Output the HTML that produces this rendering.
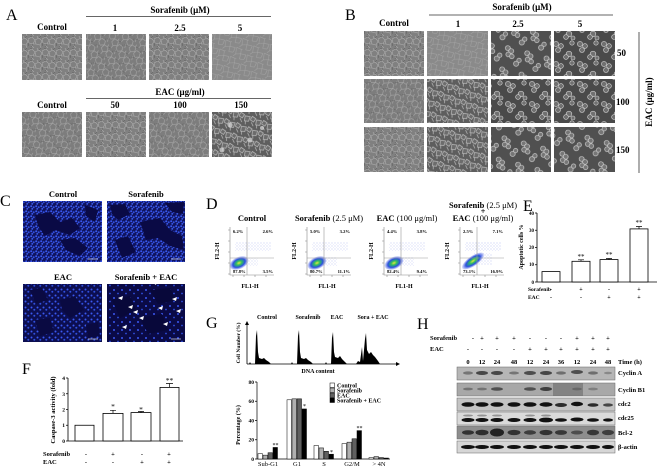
<!DOCTYPE html>
<html><head><meta charset="utf-8">
<style>
html,body{margin:0;padding:0;background:#fff;}
svg{display:block;}
text{font-family:"Liberation Serif",serif;}
.b{font-weight:bold;}
</style></head>
<body>
<svg width="660" height="469" viewBox="0 0 660 469" xmlns="http://www.w3.org/2000/svg">
<defs>
 <pattern id="conf" width="14" height="12" patternUnits="userSpaceOnUse">
  <rect width="14" height="12" fill="#808080"/>
  <path d="M0 3 L4 1 L7 4 L5 8 L1 7 Z M7 4 L11 2 L14 5 L12 9 L8 8 Z M3 9 L6 12 M9 0 L10 2 M12 9 L13 12 M5 8 L8 8" fill="none" stroke="#ababab" stroke-width="0.6"/>
  <path d="M4 1 L2 0 M5 8 L3 11 M11 2 L13 0 M1 7 L0 10" stroke="#5a5a5a" stroke-width="0.5"/>
 </pattern>
 <pattern id="confb" width="14" height="12" patternUnits="userSpaceOnUse" patternTransform="rotate(60)">
  <rect width="14" height="12" fill="#7d7d7d"/>
  <path d="M0 3 L4 1 L7 4 L5 8 L1 7 Z M7 4 L11 2 L14 5 L12 9 L8 8 Z M3 9 L6 12 M9 0 L10 2 M12 9 L13 12" fill="none" stroke="#a8a8a8" stroke-width="0.6"/>
  <path d="M4 1 L2 0 M5 8 L3 11 M11 2 L13 0" stroke="#5a5a5a" stroke-width="0.5"/>
 </pattern>
 <pattern id="conf2" width="13" height="11" patternUnits="userSpaceOnUse" patternTransform="rotate(35)">
  <rect width="13" height="11" fill="#8a8a8a"/>
  <path d="M0 2 L5 1 L7 5 L3 8 Z M7 5 L12 3 L13 8 L9 10 Z M3 8 L2 11 M5 1 L6 0" fill="none" stroke="#a8a8a8" stroke-width="0.5"/>
 </pattern>
 <pattern id="dense" width="12" height="11" patternUnits="userSpaceOnUse" patternTransform="rotate(20)">
  <rect width="12" height="11" fill="#5e5e5e"/>
  <path d="M1 1 L5 2 L4 6 L0 5 Z M6 3 L11 2 L11 7 L7 8 Z M2 7 L5 10 M8 8 L9 11" fill="#6c6c6c" stroke="#bdbdbd" stroke-width="0.7"/>
 </pattern>
 <pattern id="round" width="24" height="20" patternUnits="userSpaceOnUse">
  <rect width="24" height="20" fill="#4a4a4a"/>
  <g fill="#707070" stroke="#d2d2d2" stroke-width="0.6">
   <circle cx="4" cy="4" r="2.6"/><circle cx="9" cy="6" r="2.4"/><circle cx="6" cy="10" r="2.5"/><circle cx="17" cy="14" r="2.8"/><circle cx="20" cy="3" r="2.2"/><circle cx="14" cy="17" r="2.4"/><circle cx="21" cy="18" r="2"/>
  </g>
 </pattern>
 <pattern id="round2" width="20" height="22" patternUnits="userSpaceOnUse" patternTransform="rotate(15)">
  <rect width="20" height="22" fill="#505050"/>
  <g fill="#767676" stroke="#d8d8d8" stroke-width="0.6">
   <circle cx="3" cy="3" r="2.5"/><circle cx="7" cy="5" r="2.5"/><circle cx="5" cy="9" r="2.4"/><circle cx="9" cy="10" r="2.3"/><circle cx="15" cy="16" r="2.6"/><circle cx="17" cy="12" r="2.2"/>
  </g>
 </pattern>
 <pattern id="bd" width="5" height="5" patternUnits="userSpaceOnUse">
  <rect width="5" height="5" fill="#101460"/>
  <circle cx="1.2" cy="1.2" r="1" fill="#3a58f0"/><circle cx="3.7" cy="2.3" r="1" fill="#3250e0"/><circle cx="2.2" cy="3.9" r="0.9" fill="#4060f4"/>
 </pattern>
 <pattern id="bs" width="6" height="6" patternUnits="userSpaceOnUse">
  <rect width="6" height="6" fill="#0c0e50"/>
  <circle cx="1.5" cy="1.5" r="1" fill="#3a58f0"/><circle cx="4.3" cy="3.8" r="1" fill="#3050de"/>
 </pattern>
 <pattern id="bss" width="8" height="8" patternUnits="userSpaceOnUse">
  <rect width="8" height="8" fill="#0a0a46"/>
  <circle cx="2" cy="2" r="1" fill="#3a58f0"/><circle cx="6" cy="5.5" r="0.9" fill="#3050de"/>
 </pattern>
 <pattern id="fs" width="3" height="3" patternUnits="userSpaceOnUse">
  <circle cx="1" cy="1" r="0.45" fill="#8f9ce8"/><circle cx="2.4" cy="2.3" r="0.35" fill="#b0b8f0"/>
 </pattern>
 <radialGradient id="blob">
  <stop offset="0" stop-color="#e6e640"/>
  <stop offset="0.3" stop-color="#30c060"/>
  <stop offset="0.65" stop-color="#2a50e0"/>
  <stop offset="1" stop-color="#6070e8" stop-opacity="0.2"/>
 </radialGradient>
</defs>

<!-- ============ PANEL A ============ -->
<text x="6" y="20" font-size="16">A</text>
<text x="180" y="13" font-size="9" class="b" text-anchor="middle">Sorafenib (μM)</text>
<line x1="86" y1="16.5" x2="271" y2="16.5" stroke="#333" stroke-width="0.8"/>
<g font-size="9" class="b" text-anchor="middle">
 <text x="52" y="30">Control</text><text x="115" y="31">1</text><text x="180" y="31">2.5</text><text x="240" y="31">5</text>
</g>
<rect x="22" y="34" width="60" height="46" fill="url(#conf)"/>
<rect x="86" y="34" width="60" height="46" fill="url(#confb)"/>
<rect x="149" y="34" width="60" height="46" fill="url(#conf)"/>
<rect x="212" y="34" width="60" height="46" fill="url(#conf2)"/>
<text x="180" y="95" font-size="9" class="b" text-anchor="middle">EAC (μg/ml)</text>
<line x1="86" y1="98.5" x2="271" y2="98.5" stroke="#333" stroke-width="0.8"/>
<g font-size="9" class="b" text-anchor="middle">
 <text x="52" y="108">Control</text><text x="115" y="108">50</text><text x="180" y="108">100</text><text x="241" y="108">150</text>
</g>
<rect x="22" y="112" width="60" height="45" fill="url(#confb)"/>
<rect x="86" y="112" width="60" height="45" fill="url(#conf)"/>
<rect x="149" y="112" width="60" height="45" fill="url(#confb)"/>
<rect x="212" y="112" width="60" height="45" fill="url(#dense)"/>
<g fill="#dcdcdc" opacity="0.7"><circle cx="230" cy="125" r="2.5"/><circle cx="250" cy="140" r="2.5"/><circle cx="262" cy="128" r="2"/><circle cx="222" cy="150" r="2.5"/></g>

<!-- ============ PANEL B ============ -->
<text x="345" y="20" font-size="16">B</text>
<text x="522" y="10" font-size="9" class="b" text-anchor="middle">Sorafenib (μM)</text>
<line x1="429" y1="15" x2="613" y2="15" stroke="#333" stroke-width="0.8"/>
<g font-size="9" class="b" text-anchor="middle">
 <text x="394" y="26">Control</text><text x="458" y="27">1</text><text x="518" y="27">2.5</text><text x="580" y="27">5</text>
</g>
<rect x="364" y="31" width="60" height="45" fill="url(#conf)"/>
<rect x="427" y="31" width="61" height="45" fill="url(#conf2)"/>
<rect x="491" y="31" width="60" height="45" fill="url(#round2)"/>
<rect x="554" y="31" width="61" height="45" fill="url(#round)"/>
<rect x="364" y="79" width="60" height="44" fill="url(#confb)"/>
<rect x="427" y="79" width="61" height="44" fill="url(#dense)"/>
<rect x="491" y="79" width="60" height="44" fill="url(#round)"/>
<rect x="554" y="79" width="61" height="44" fill="url(#round)"/>
<rect x="364" y="127" width="60" height="45" fill="url(#conf)"/>
<rect x="427" y="127" width="61" height="45" fill="url(#dense)"/>
<rect x="491" y="127" width="60" height="45" fill="url(#round2)"/>
<rect x="554" y="127" width="61" height="45" fill="url(#round2)"/>
<g font-size="9" class="b">
 <text x="617" y="56">50</text><text x="616" y="105">100</text><text x="616" y="153">150</text>
</g>
<line x1="639" y1="32" x2="639" y2="173" stroke="#333" stroke-width="0.8"/>
<text x="652" y="102" font-size="9" class="b" text-anchor="middle" transform="rotate(-90 652 102)">EAC (μg/ml)</text>

<!-- ============ PANEL C ============ -->
<text x="0" y="206" font-size="16">C</text>
<g font-size="8.5" class="b" text-anchor="middle">
 <text x="63" y="197">Control</text><text x="146" y="197">Sorafenib</text>
 <text x="63" y="280">EAC</text><text x="146" y="280">Sorafenib + EAC</text>
</g>
<rect x="23" y="201" width="79" height="61" fill="url(#bd)"/>
<g fill="#0a0a45"><path d="M35 215 L50 212 L60 222 L72 218 L80 228 L70 235 L55 230 L45 236 L38 226 Z"/><path d="M60 240 L75 238 L88 248 L80 256 L66 250 Z"/><path d="M85 205 L98 210 L95 222 L86 216 Z"/></g>
<rect x="107" y="201" width="78" height="61" fill="url(#bd)"/>
<g fill="#0a0a45"><path d="M110 205 L125 204 L130 214 L118 220 L112 214 Z"/><path d="M140 222 L160 218 L170 230 L182 236 L184 250 L170 246 L158 238 L146 240 Z"/><path d="M115 240 L128 236 L136 252 L122 258 Z"/><path d="M165 203 L184 202 L183 214 L172 212 Z"/></g>
<rect x="23" y="284" width="79" height="58" fill="url(#bs)"/>
<g fill="#0a0a42"><path d="M30 290 L42 288 L48 300 L36 304 Z"/><path d="M60 300 L75 296 L84 310 L70 318 L62 310 Z"/><path d="M35 320 L50 318 L54 332 L40 336 Z"/><path d="M86 325 L98 322 L100 336 L88 338 Z"/></g>
<rect x="107" y="284" width="78" height="58" fill="url(#bss)"/>
<g fill="#08083a"><path d="M112 300 L130 296 L136 310 L120 318 Z"/><path d="M150 290 L170 288 L176 300 L158 304 Z"/><path d="M140 318 L162 314 L168 330 L148 334 Z"/></g>
<g fill="#fff">
 <path d="M118 298 l5 -2 l-1 4 z"/><path d="M128 307 l5 -2 l-1 4 z"/><path d="M133 312 l5 -2 l-1 4 z"/><path d="M139 318 l5 -2 l-1 4 z"/><path d="M122 327 l5 -2 l-1 4 z"/><path d="M158 308 l5 -2 l-1 4 z"/><path d="M172 299 l5 -2 l-1 4 z"/><path d="M176 311 l5 -2 l-1 4 z"/><path d="M163 324 l5 -2 l-1 4 z"/><path d="M153 283 l4 -2 l-1 4 z"/>
</g>
<g stroke="#fff" stroke-width="0.6"><line x1="88" y1="259" x2="98" y2="259"/><line x1="171" y1="259" x2="181" y2="259"/><line x1="88" y1="339" x2="98" y2="339"/><line x1="171" y1="339" x2="181" y2="339"/></g>

<!-- ============ PANEL D ============ -->
<text x="206" y="209" font-size="16">D</text>
<g font-size="8.5" text-anchor="middle">
 <text x="252" y="221" class="b">Control</text>
 <text x="329" y="221"><tspan class="b">Sorafenib</tspan> (2.5 μM)</text>
 <text x="407" y="221"><tspan class="b">EAC</tspan> (100 μg/ml)</text>
 <text x="483" y="208"><tspan class="b">Sorafenib</tspan> (2.5 μM)</text>
 <text x="483" y="214" class="b">+</text>
 <text x="483" y="221"><tspan class="b">EAC</tspan> (100 μg/ml)</text>
</g>

<g transform="translate(230,227)">
 <rect x="5" y="15" width="36" height="9" fill="url(#fs)" opacity="0.8"/>
 <rect x="14" y="31" width="14" height="8" fill="url(#fs)" opacity="0.7"/>
 <ellipse cx="9" cy="36" rx="10" ry="6" transform="rotate(-25 9 36)" fill="url(#blob)"/>
 <line x1="17" y1="0" x2="17" y2="48" stroke="#999" stroke-width="0.6"/>
 <line x1="0" y1="31" x2="44" y2="31" stroke="#999" stroke-width="0.6"/>
 <path d="M0 0 V48 H44 M-2 3 H0 M-2 14 H0 M-2 25 H0 M-2 36 H0 M-2 47 H0 M3 48 V50 M14 48 V50 M25 48 V50 M36 48 V50" fill="none" stroke="#888" stroke-width="0.6"/>
 <g font-size="4.6" class="b"><text x="3" y="6">6.2%</text><text x="43" y="6" text-anchor="end">2.6%</text><text x="3" y="46">87.8%</text><text x="43" y="46" text-anchor="end">3.5%</text></g>
</g>
<g transform="translate(307,227)">
 <rect x="5" y="15" width="36" height="9" fill="url(#fs)" opacity="0.8"/>
 <rect x="14" y="30" width="16" height="9" fill="url(#fs)" opacity="0.8"/>
 <ellipse cx="10" cy="36" rx="10" ry="6" transform="rotate(-25 10 36)" fill="url(#blob)"/>
 <line x1="17" y1="0" x2="17" y2="48" stroke="#999" stroke-width="0.6"/>
 <line x1="0" y1="31" x2="44" y2="31" stroke="#999" stroke-width="0.6"/>
 <path d="M0 0 V48 H44 M-2 3 H0 M-2 14 H0 M-2 25 H0 M-2 36 H0 M-2 47 H0 M3 48 V50 M14 48 V50 M25 48 V50 M36 48 V50" fill="none" stroke="#888" stroke-width="0.6"/>
 <g font-size="4.6" class="b"><text x="3" y="6">5.0%</text><text x="43" y="6" text-anchor="end">3.2%</text><text x="3" y="46">80.7%</text><text x="43" y="46" text-anchor="end">11.1%</text></g>
</g>
<g transform="translate(384,227)">
 <rect x="5" y="15" width="36" height="9" fill="url(#fs)" opacity="0.8"/>
 <rect x="14" y="30" width="16" height="9" fill="url(#fs)" opacity="0.8"/>
 <ellipse cx="10" cy="36" rx="10" ry="6" transform="rotate(-25 10 36)" fill="url(#blob)"/>
 <line x1="17" y1="0" x2="17" y2="48" stroke="#999" stroke-width="0.6"/>
 <line x1="0" y1="31" x2="44" y2="31" stroke="#999" stroke-width="0.6"/>
 <path d="M0 0 V48 H44 M-2 3 H0 M-2 14 H0 M-2 25 H0 M-2 36 H0 M-2 47 H0 M3 48 V50 M14 48 V50 M25 48 V50 M36 48 V50" fill="none" stroke="#888" stroke-width="0.6"/>
 <g font-size="4.6" class="b"><text x="3" y="6">4.4%</text><text x="43" y="6" text-anchor="end">3.8%</text><text x="3" y="46">82.4%</text><text x="43" y="46" text-anchor="end">9.4%</text></g>
</g>
<g transform="translate(460,227)">
 <rect x="5" y="15" width="36" height="9" fill="url(#fs)" opacity="0.9"/>
 <rect x="14" y="26" width="18" height="12" fill="url(#fs)" opacity="0.8"/>
 <ellipse cx="13" cy="34" rx="13" ry="5" transform="rotate(-35 13 34)" fill="url(#blob)"/>
 <line x1="17" y1="0" x2="17" y2="48" stroke="#999" stroke-width="0.6"/>
 <line x1="0" y1="31" x2="44" y2="31" stroke="#999" stroke-width="0.6"/>
 <path d="M0 0 V48 H44 M-2 3 H0 M-2 14 H0 M-2 25 H0 M-2 36 H0 M-2 47 H0 M3 48 V50 M14 48 V50 M25 48 V50 M36 48 V50" fill="none" stroke="#888" stroke-width="0.6"/>
 <g font-size="4.6" class="b"><text x="3" y="6">2.5%</text><text x="43" y="6" text-anchor="end">7.1%</text><text x="3" y="46">73.1%</text><text x="43" y="46" text-anchor="end">16.9%</text></g>
</g>
<g font-size="6" class="b" text-anchor="middle">
 <text x="219" y="251" transform="rotate(-90 219 251)">FL2-H</text>
 <text x="296" y="251" transform="rotate(-90 296 251)">FL2-H</text>
 <text x="373" y="251" transform="rotate(-90 373 251)">FL2-H</text>
 <text x="449" y="251" transform="rotate(-90 449 251)">FL2-H</text>
 <text x="250" y="288">FL1-H</text><text x="327" y="288">FL1-H</text><text x="404" y="288">FL1-H</text><text x="480" y="288">FL1-H</text>
</g>

<!-- ============ PANEL E ============ -->
<text x="523" y="211" font-size="16">E</text>
<text x="523" y="247" font-size="6" class="b" text-anchor="middle" transform="rotate(-90 523 247)">Apoptotic cells %</text>
<g stroke="#000" stroke-width="0.8" fill="none">
 <path d="M537 213 V282 H657 M535 213 H537 M535 230.25 H537 M535 247.5 H537 M535 264.75 H537 M535 282 H537"/>
</g>
<g font-size="5" class="b" text-anchor="end">
 <text x="534" y="215">40</text><text x="534" y="232">30</text><text x="534" y="249">20</text><text x="534" y="266">10</text><text x="534" y="284">0</text>
</g>
<g fill="#fff" stroke="#000" stroke-width="0.8">
 <rect x="542" y="271.6" width="18" height="10.4"/>
 <rect x="572" y="261.3" width="18" height="20.7"/>
 <rect x="600" y="259.6" width="18" height="22.4"/>
 <rect x="630" y="228.9" width="18" height="53.1"/>
</g>
<g stroke="#000" stroke-width="0.7"><path d="M581 261.3 V259.8 M578 259.8 H584 M609 259.6 V258.5 M606 258.5 H612 M639 228.9 V226.5 M636 226.5 H642"/></g>
<g font-size="7" text-anchor="middle"><text x="581" y="259">**</text><text x="609" y="257">**</text><text x="639" y="225">**</text></g>
<g font-size="5.5" class="b">
 <text x="528" y="291">Sorafenib</text><text x="528" y="299">EAC</text>
</g>
<g font-size="6" class="b" text-anchor="middle">
 <text x="551" y="291">-</text><text x="581" y="291">+</text><text x="609" y="291">-</text><text x="639" y="291">+</text>
 <text x="551" y="299">-</text><text x="581" y="299">-</text><text x="609" y="299">+</text><text x="639" y="299">+</text>
</g>

<!-- ============ PANEL F ============ -->
<text x="22" y="374" font-size="16">F</text>
<text x="55" y="410" font-size="6.5" class="b" text-anchor="middle" transform="rotate(-90 55 410)">Caspase-3 activity (fold)</text>
<g stroke="#000" stroke-width="0.8" fill="none">
 <path d="M68 378 V441 H183 M66 378 H68 M66 393.75 H68 M66 409.5 H68 M66 425.25 H68 M66 441 H68"/>
</g>
<g font-size="5.5" class="b" text-anchor="end">
 <text x="65" y="380">4</text><text x="65" y="396">3</text><text x="65" y="411.5">2</text><text x="65" y="427">1</text><text x="65" y="443">0</text>
</g>
<g fill="#fff" stroke="#000" stroke-width="0.8">
 <rect x="75" y="425.25" width="19" height="15.75"/>
 <rect x="103" y="413.4" width="20" height="27.6"/>
 <rect x="131" y="412.6" width="20" height="28.4"/>
 <rect x="160" y="387.4" width="19" height="53.6"/>
</g>
<g stroke="#000" stroke-width="0.7"><path d="M113 413.4 V410.3 M110 410.3 H116 M141 412.6 V411.5 M138 411.5 H144 M169.5 387.4 V383.5 M166 383.5 H173"/></g>
<g font-size="7.5" text-anchor="middle"><text x="113" y="409">*</text><text x="141" y="412">*</text><text x="169.5" y="383">**</text></g>
<g font-size="6.5" class="b"><text x="43" y="456">Sorafenib</text><text x="43" y="464">EAC</text></g>
<g font-size="6.5" class="b" text-anchor="middle">
 <text x="86" y="456">-</text><text x="113" y="456">+</text><text x="142" y="456">-</text><text x="169" y="456">+</text>
 <text x="86" y="464">-</text><text x="113" y="464">-</text><text x="142" y="464">+</text><text x="169" y="464">+</text>
</g>

<!-- ============ PANEL G ============ -->
<text x="206" y="328" font-size="16">G</text>
<g font-size="6" class="b" text-anchor="middle">
 <text x="267" y="319">Control</text><text x="308" y="319">Sorafenib</text><text x="337" y="319">EAC</text><text x="373" y="319">Sora + EAC</text>
</g>
<text x="240" y="343" font-size="5.5" class="b" text-anchor="middle" transform="rotate(-90 240 343)">Cell Number (%)</text>
<g stroke="#000" stroke-width="0.8" fill="none"><path d="M247 364 V323 M247 364 H397"/></g>
<path d="M245 325 L247 321 L249 325 Z M396 362 L400 364 L396 366 Z" fill="#000"/>
<g fill="#000">
 <path transform="translate(257,364)" d="M-8 0 L-7 -2 L-6 0 L-2 0 L-1 -28 L0 -34 L1 -12 L2 -6 L5 -5 L7 -6 L9 -4 L12 -2 L14 0 Z"/>
 <path transform="translate(299,364)" d="M-8 0 L-7 -2 L-6 0 L-2 0 L-1 -28 L0 -34 L1 -12 L2 -6 L5 -5 L7 -6 L9 -4 L12 -2 L14 0 Z"/>
 <path transform="translate(333,364)" d="M-8 0 L-7 -2 L-6 0 L-2 0 L-1 -26 L0 -32 L1 -12 L2 -7 L5 -6 L7 -8 L9 -5 L12 -2 L14 0 Z"/>
 <path transform="translate(366,364)" d="M-10 0 L-8 -3 L-6 -2 L-4 -17 L-3 -3 L-1 -25 L0 -31 L1 -14 L3 -10 L5 -12 L7 -9 L9 -7 L12 -3 L14 0 Z"/>
</g>
<text x="318" y="373" font-size="6" class="b" text-anchor="middle">DNA content</text>

<text x="240" y="425" font-size="6" class="b" text-anchor="middle" transform="rotate(-90 240 425)">Percentage (%)</text>
<g stroke="#000" stroke-width="0.7" fill="none">
 <path d="M257 382 V459 H390 M255 382 H257 M255 401.25 H257 M255 420.5 H257 M255 439.75 H257 M255 459 H257"/>
</g>
<g font-size="5.5" class="b" text-anchor="end">
 <text x="254" y="384">80</text><text x="254" y="403">60</text><text x="254" y="422.5">40</text><text x="254" y="441.5">20</text><text x="254" y="461">0</text>
</g>
<g stroke="#000" stroke-width="0.5">
 <rect x="258" y="453.7" width="4.5" height="5.3" fill="#fff"/><rect x="263" y="455.15" width="4.5" height="3.85" fill="#b0b0b0"/><rect x="268" y="452.74" width="4.5" height="6.26" fill="#606060"/><rect x="273" y="447.45" width="4.5" height="11.55" fill="#000"/>
 <rect x="287" y="399.8" width="4.5" height="59.2" fill="#fff"/><rect x="292" y="398.84" width="4.5" height="60.16" fill="#b0b0b0"/><rect x="297" y="398.84" width="4.5" height="60.16" fill="#606060"/><rect x="302" y="408.95" width="4.5" height="50.05" fill="#000"/>
 <rect x="314" y="445.52" width="4.5" height="13.48" fill="#fff"/><rect x="319" y="447.93" width="4.5" height="11.07" fill="#b0b0b0"/><rect x="324" y="451.3" width="4.5" height="7.7" fill="#606060"/><rect x="329" y="454.19" width="4.5" height="4.81" fill="#000"/>
 <rect x="342" y="443.6" width="4.5" height="15.4" fill="#fff"/><rect x="347" y="442.16" width="4.5" height="16.84" fill="#b0b0b0"/><rect x="352" y="438.79" width="4.5" height="20.21" fill="#606060"/><rect x="357" y="430.61" width="4.5" height="28.39" fill="#000"/>
 <rect x="369" y="457.56" width="4.5" height="1.44" fill="#fff"/><rect x="374" y="456.59" width="4.5" height="2.41" fill="#b0b0b0"/><rect x="379" y="457.56" width="4.5" height="1.44" fill="#606060"/><rect x="384" y="458.04" width="4.5" height="0.96" fill="#000"/>
</g>
<g font-size="6" text-anchor="middle"><text x="275.5" y="447">**</text><text x="304.5" y="408">*</text><text x="331.5" y="454">*</text><text x="359.5" y="430">**</text></g>
<g stroke="#000" stroke-width="0.5">
 <rect x="330" y="383" width="4.5" height="4.5" fill="#fff"/><rect x="330" y="388" width="4.5" height="4.5" fill="#b0b0b0"/><rect x="330" y="393" width="4.5" height="4.5" fill="#606060"/><rect x="330" y="398" width="4.5" height="4.5" fill="#000"/>
</g>
<g font-size="6" class="b"><text x="337" y="387.5">Control</text><text x="337" y="392.5">Sorafenib</text><text x="337" y="397.5">EAC</text><text x="337" y="402.5">Sorafenib + EAC</text></g>
<g font-size="6.5" text-anchor="middle">
 <text x="268" y="466">Sub-G1</text><text x="297" y="466">G1</text><text x="324" y="466">S</text><text x="352" y="466">G2/M</text><text x="379" y="466">&gt; 4N</text>
</g>

<!-- ============ PANEL H ============ -->
<text x="417" y="329" font-size="16">H</text>
<g font-size="6.5" class="b"><text x="430" y="340">Sorafenib</text><text x="430" y="351">EAC</text></g>
<g font-size="6.5" class="b" text-anchor="middle">
 <text x="473" y="340">-</text><text x="482" y="340">+</text><text x="497" y="340">+</text><text x="514" y="340">+</text><text x="530" y="340">-</text><text x="546" y="340">-</text><text x="561" y="340">-</text><text x="577" y="340">+</text><text x="593" y="340">+</text><text x="608" y="340">+</text>
 <text x="468" y="351">-</text><text x="482" y="351">-</text><text x="497" y="351">-</text><text x="514" y="351">-</text><text x="530" y="351">+</text><text x="546" y="351">+</text><text x="561" y="351">+</text><text x="577" y="351">+</text><text x="593" y="351">+</text><text x="608" y="351">+</text>
 <text x="468" y="364">0</text><text x="482" y="364">12</text><text x="497" y="364">24</text><text x="514" y="364">48</text><text x="530" y="364">12</text><text x="546" y="364">24</text><text x="561" y="364">36</text><text x="577" y="364">12</text><text x="593" y="364">24</text><text x="608" y="364">48</text>
</g>
<g font-size="6.5" class="b">
 <text x="618" y="364">Time (h)</text>
 <text x="618" y="375">Cyclin A</text>
 <text x="618" y="392">Cyclin B1</text>
 <text x="618" y="406">cdc2</text>
 <text x="618" y="420">cdc25</text>
 <text x="618" y="435">Bcl-2</text>
 <text x="618" y="449">β-actin</text>
</g>
<rect x="457" y="367" width="158" height="13" fill="#b6b6b6" stroke="#666" stroke-width="0.5"/>
<g fill="#333">
 <ellipse cx="468" cy="373" rx="5" ry="1.6" opacity="0.5"/><ellipse cx="482" cy="373" rx="6" ry="2" opacity="0.85"/><ellipse cx="497" cy="373" rx="6" ry="2" opacity="0.85"/><ellipse cx="514" cy="373" rx="5" ry="1.5" opacity="0.5"/><ellipse cx="530" cy="373" rx="6" ry="2" opacity="0.8"/><ellipse cx="546" cy="373" rx="6" ry="2" opacity="0.85"/><ellipse cx="561" cy="373" rx="5" ry="1.6" opacity="0.55"/><ellipse cx="577" cy="372" rx="6" ry="2" opacity="0.8"/><ellipse cx="593" cy="373" rx="5" ry="1.6" opacity="0.55"/><ellipse cx="608" cy="373" rx="4" ry="1.3" opacity="0.35"/>
</g>
<rect x="457" y="383" width="158" height="13" fill="#a8a8a8" stroke="#666" stroke-width="0.5"/>
<rect x="553" y="383" width="30" height="13" fill="#6a6a6a" opacity="0.6"/>
<g fill="#333">
 <ellipse cx="468" cy="389" rx="5" ry="1.4" opacity="0.45"/><ellipse cx="482" cy="389" rx="5" ry="1.4" opacity="0.45"/><ellipse cx="497" cy="389" rx="6" ry="1.8" opacity="0.75"/><ellipse cx="530" cy="389" rx="6" ry="1.8" opacity="0.75"/><ellipse cx="546" cy="389" rx="6" ry="2" opacity="0.9"/><ellipse cx="577" cy="389" rx="5" ry="1.4" opacity="0.35"/><ellipse cx="593" cy="389" rx="5" ry="1.4" opacity="0.35"/>
</g>
<rect x="457" y="398" width="158" height="13" fill="#c4c4c4" stroke="#666" stroke-width="0.5"/>
<g fill="#111">
 <ellipse cx="468" cy="404.5" rx="6.5" ry="2.3"/><ellipse cx="482" cy="404.5" rx="6.5" ry="2.3"/><ellipse cx="497" cy="404.5" rx="6.5" ry="2.3"/><ellipse cx="514" cy="404.5" rx="6.5" ry="2.3"/><ellipse cx="530" cy="404.5" rx="6.5" ry="2.3"/><ellipse cx="546" cy="404.5" rx="6.5" ry="2.2"/><ellipse cx="561" cy="405" rx="6" ry="2" opacity="0.85"/><ellipse cx="577" cy="404" rx="6" ry="2.2"/><ellipse cx="593" cy="405" rx="5.5" ry="1.8" opacity="0.85"/><ellipse cx="608" cy="405" rx="5" ry="1.6" opacity="0.7"/>
</g>
<rect x="457" y="412" width="158" height="13" fill="#dadada" stroke="#666" stroke-width="0.5"/>
<g fill="#111">
 <ellipse cx="468" cy="420" rx="6.5" ry="2"/><ellipse cx="482" cy="420" rx="6.5" ry="2"/><ellipse cx="497" cy="420" rx="6.5" ry="2"/><ellipse cx="514" cy="420" rx="6.5" ry="2"/><ellipse cx="530" cy="420" rx="6.5" ry="2"/><ellipse cx="546" cy="420" rx="7" ry="2.4"/><ellipse cx="561" cy="420" rx="6" ry="1.8"/><ellipse cx="577" cy="419.5" rx="6.5" ry="2"/><ellipse cx="593" cy="420" rx="6" ry="1.8"/><ellipse cx="608" cy="420" rx="5" ry="1.6"/>
</g>
<g fill="#666" opacity="0.6">
 <ellipse cx="468" cy="415.5" rx="5" ry="1"/><ellipse cx="482" cy="415.5" rx="5" ry="1"/><ellipse cx="497" cy="415.5" rx="5" ry="1"/><ellipse cx="530" cy="415.5" rx="5" ry="1"/><ellipse cx="546" cy="415.5" rx="5" ry="1"/>
</g>
<rect x="457" y="426" width="158" height="13" fill="#8e8e8e" stroke="#666" stroke-width="0.5"/>
<g fill="#222">
 <ellipse cx="468" cy="432.5" rx="6" ry="2.3" opacity="0.85"/><ellipse cx="482" cy="432.5" rx="6.5" ry="2.8" opacity="0.9"/><ellipse cx="497" cy="432.5" rx="7" ry="4" opacity="1"/><ellipse cx="514" cy="432.5" rx="6.5" ry="2.6" opacity="0.85"/><ellipse cx="530" cy="432.5" rx="6" ry="2.2" opacity="0.75"/><ellipse cx="546" cy="432.5" rx="6.5" ry="2.6" opacity="0.85"/><ellipse cx="561" cy="432.5" rx="6" ry="2.4" opacity="0.8"/><ellipse cx="577" cy="432.5" rx="6" ry="2" opacity="0.6"/><ellipse cx="593" cy="432.5" rx="6" ry="2.8" opacity="0.8"/><ellipse cx="608" cy="432.5" rx="6" ry="2.6" opacity="0.75"/>
</g>
<rect x="457" y="441" width="158" height="12" fill="#d6d6d6" stroke="#666" stroke-width="0.5"/>
<g fill="#111">
 <ellipse cx="468" cy="447" rx="7" ry="2"/><ellipse cx="482" cy="447" rx="7" ry="2"/><ellipse cx="497" cy="447" rx="7" ry="2"/><ellipse cx="514" cy="447" rx="7" ry="2"/><ellipse cx="530" cy="447" rx="7" ry="2"/><ellipse cx="546" cy="447" rx="7" ry="2"/><ellipse cx="561" cy="447" rx="7" ry="2"/><ellipse cx="577" cy="447" rx="7" ry="2"/><ellipse cx="593" cy="447" rx="7" ry="2"/><ellipse cx="608" cy="447" rx="6" ry="2"/>
</g>
</svg>
</body></html>
